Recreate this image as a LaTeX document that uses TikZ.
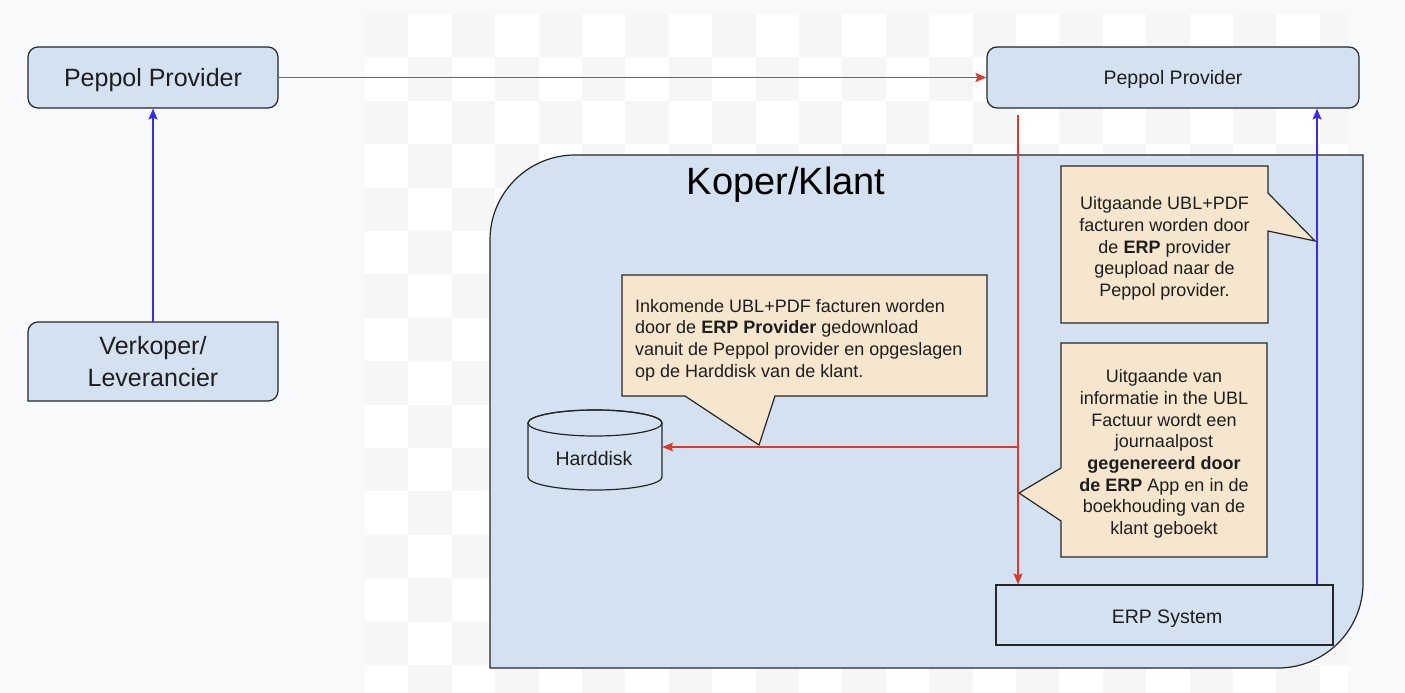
\documentclass[tikz,border=0pt]{standalone}
\usepackage{fontspec}
\setmainfont{Liberation Sans}
\usetikzlibrary{arrows.meta}
\definecolor{bg}{HTML}{F8F9FB}
\definecolor{chk}{HTML}{F6F6F6}
\definecolor{boxfill}{HTML}{D4E1F1}
\definecolor{callfill}{HTML}{F6E6CD}
\definecolor{redline}{HTML}{D93A2B}
\definecolor{blueline}{HTML}{3A2BE8}
\definecolor{txt}{HTML}{1E1E1E}
\tikzset{
  outline/.style={draw=black!85, line width=1.2pt},
  pbox/.style={outline, fill=boxfill, rounded corners=10pt, inner sep=0pt, align=center, text=txt},
  plainbox/.style={outline, fill=boxfill, inner sep=0pt, align=center, text=txt},
  callshape/.style={outline, fill=callfill, line join=miter},
  calltext/.style={inner sep=0pt, text=txt, font=\fontsize{18}{21.7}\selectfont},
  redarrow/.style={draw=redline, line width=1.3pt, -{Stealth[length=11pt,width=9pt,inset=2pt]}},
  bluearrow/.style={draw=blueline, line width=1.3pt, -{Stealth[length=11pt,width=9pt,inset=2pt]}},
  plaintext/.style={inner sep=0pt, text=txt},
}
\begin{document}
\begin{tikzpicture}[x=1pt,y=-1pt]
\useasboundingbox (0,0) rectangle (1405,693);
\fill[bg] (0,0) rectangle (1405,693);
% transparency checkerboard
\begin{scope}
  \clip (365,14) rectangle (1348,693);
  \fill[white] (365,14) rectangle (1348,693);
  \foreach \i in {0,...,22} {
    \foreach \j in {0,...,15} {
      \pgfmathtruncatemacro\chkp{mod(\i+\j,2)}
      \ifnum\chkp=0
        \fill[chk] ({365+43.4*\i},{14+43.4*\j}) rectangle +(43.4,43.4);
      \fi
    }
  }
\end{scope}

% left side
\node[pbox, minimum width=250pt, minimum height=61pt] (ppl) at (153,77.5) {};
\node[plaintext, font=\fontsize{25}{30}\selectfont] (pplt) at (153,80.5) {Peppol Provider};
\draw[outline, fill=boxfill] (28,401) -- (28,332) arc[start angle=180, end angle=90, radius=10pt]
  -- (278,322) -- (278,391) arc[start angle=0, end angle=-90, radius=10pt] -- cycle;
\node[inner sep=0pt, minimum width=250pt, minimum height=79pt, align=center, text=txt,
      font=\fontsize{25}{31.7}\selectfont] (vk) at (153,361.5) {Verkoper/\\Leverancier};

% right top provider
\node[pbox, minimum width=372pt, minimum height=61pt] (ppr) at (1173,77.5) {};
\node[plaintext, font=\fontsize{19.5}{23}\selectfont] (pprt) at (1173,79.5) {Peppol Provider};

% container Koper/Klant
\draw[outline, fill=boxfill] (490,668) -- (490,240) arc[start angle=180, end angle=90, radius=85pt]
  -- (1363,155) -- (1363,583) arc[start angle=0, end angle=-90, radius=85pt] -- cycle;
\node[inner sep=0pt, text=black, font=\fontsize{38}{44}\selectfont] (koper) at (786,185) {Koper/Klant};

% ERP system
\node[plainbox, minimum width=337pt, minimum height=60pt] (erp) at (1164.5,615) {};
\node[plaintext, font=\fontsize{19.5}{23}\selectfont] (erpt) at (1167,619) {ERP System};

% Harddisk cylinder
\draw[outline, fill=boxfill] (528,423) -- (528,477) arc[start angle=180, end angle=360, x radius=67pt, y radius=13pt]
  -- (662,423) arc[start angle=0, end angle=180, x radius=67pt, y radius=13pt] -- cycle;
\draw[outline] (595,423) ellipse[x radius=67pt, y radius=13pt];
\node[inner sep=0pt, minimum width=134pt, minimum height=80pt] (hd) at (595,450) {};
\node[plaintext, font=\fontsize{19.5}{23}\selectfont] (hdt) at (594,459) {Harddisk};

% callouts
\draw[callshape] (622,275) -- (987,275) -- (987,396) -- (775,396) -- (759,445) -- (685,396) -- (622,396) -- cycle;
\node[calltext, anchor=west, align=left] (c1) at (635,340)
  {Inkomende UBL+PDF facturen worden\\door de \textbf{ERP Provider} gedownload\\vanuit de Peppol provider en opgeslagen\\op de Harddisk van de klant.};

\draw[callshape] (1061,166) -- (1268,166) -- (1268,193) -- (1315,241) -- (1268,231) -- (1268,323) -- (1061,323) -- cycle;
\node[calltext, align=center] (c2) at (1164.5,248.5)
  {Uitgaande UBL+PDF\\facturen worden door\\de \textbf{ERP} provider\\geupload naar de\\Peppol provider.};

\draw[callshape] (1061,343) -- (1267,343) -- (1267,557) -- (1061,557) -- (1061,521) -- (1019,493) -- (1061,468) -- cycle;
\node[calltext, align=center] (c3) at (1164,454)
  {Uitgaande van\\informatie in the UBL\\Factuur wordt een\\journaalpost\\\textbf{gegenereerd door}\\\textbf{de ERP} App en in de\\boekhouding van de\\klant geboekt};

% connectors
\draw[bluearrow] (vk.north) -- (ppl.south);
\draw[redarrow] (ppl.east) -- (ppr.west);
\coordinate (rs) at (1018,115);
\coordinate (br) at (1018,447);
\draw[redarrow] (rs) -- (rs |- erp.north);
\draw[redarrow] (br) -- (hd.east |- br);
\coordinate (bx) at (1317,0);
\draw[bluearrow] (bx |- erp.north) -- (bx |- ppr.south);
\end{tikzpicture}
\end{document}
